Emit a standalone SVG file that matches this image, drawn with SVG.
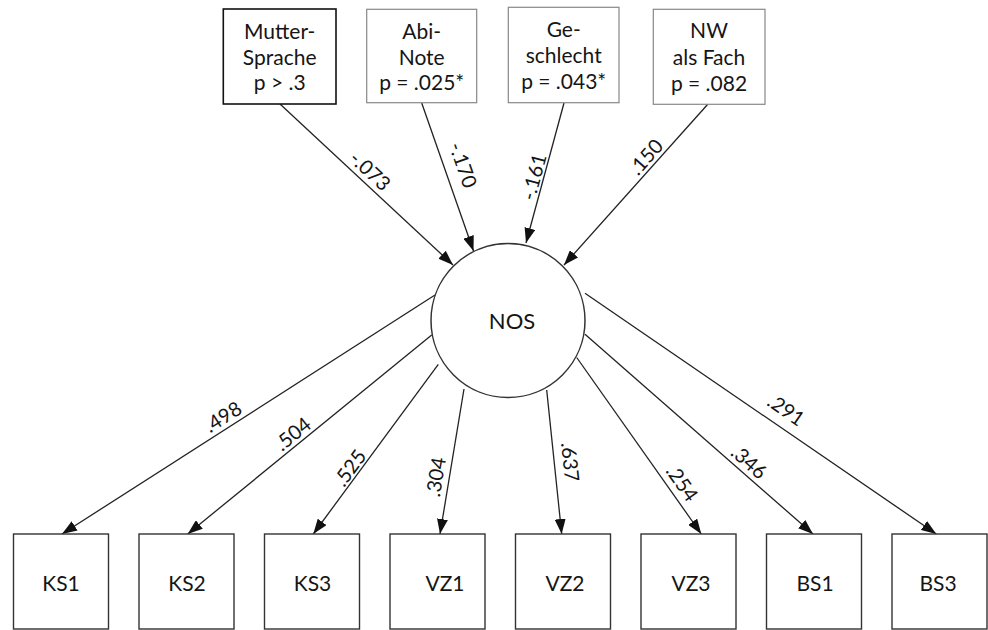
<svg xmlns="http://www.w3.org/2000/svg" width="988" height="630" viewBox="0 0 988 630">
<defs>
<marker id="ah" markerUnits="userSpaceOnUse" markerWidth="15" markerHeight="11" refX="15" refY="5.5" orient="auto">
<path d="M0,0 L15,5.5 L0,11 z" fill="#111"/>
</marker>
<style>
text{font-family:Lato,"Liberation Sans",sans-serif;fill:#151515}
.bx{fill:#fff;stroke:#333;stroke-width:1.4}
.bxg{fill:#fff;stroke:#888;stroke-width:1.2}
.bxk{fill:#fff;stroke:#111;stroke-width:1.6}
.t{font-size:21px;text-anchor:middle}
.lbl{font-size:20px;text-anchor:middle}
.e{stroke:#222;stroke-width:1.3;fill:none}
.ea{stroke:#222;stroke-width:1.3;fill:none;marker-end:url(#ah)}
</style>
</defs>
<rect width="988" height="630" fill="#fff"/>

<g id="connectors">
<line class="ea" x1="280" y1="104" x2="453" y2="265"/>
<line class="ea" x1="421.7" y1="103" x2="473.5" y2="251"/>
<line class="ea" x1="564" y1="103" x2="526" y2="243"/>
<line class="ea" x1="708" y1="104" x2="564" y2="265"/>
<line class="ea" x1="435" y1="295" x2="62" y2="534"/>
<line class="ea" x1="431.7" y1="335" x2="187.7" y2="534"/>
<line class="ea" x1="438.3" y1="364.3" x2="313.3" y2="534"/>
<line class="ea" x1="464" y1="389" x2="440" y2="534"/>
<line class="ea" x1="546.7" y1="390" x2="561.7" y2="534"/>
<line class="ea" x1="576.7" y1="357.5" x2="701.3" y2="534"/>
<line class="ea" x1="585" y1="334.3" x2="813" y2="534"/>
<line class="ea" x1="585" y1="293.3" x2="936.3" y2="534"/>
<g id="edge-labels">
<text class="lbl" transform="translate(370,171) rotate(43)" dy="0.35em">-.073</text>
<text class="lbl" transform="translate(463,165) rotate(70.7)" dy="0.35em">-.170</text>
<text class="lbl" transform="translate(534,177) rotate(-74.8)" dy="0.35em">-.161</text>
<text class="lbl" transform="translate(646,157) rotate(-48.2)" dy="0.35em">.150</text>
<text class="lbl" transform="translate(223,417) rotate(-32.6)" dy="0.35em">.498</text>
<text class="lbl" transform="translate(293,434) rotate(-39.2)" dy="0.35em">.504</text>
<text class="lbl" transform="translate(350,468) rotate(-53.6)" dy="0.35em">.525</text>
<text class="lbl" transform="translate(436,477) rotate(-80.6)" dy="0.35em">.304</text>
<text class="lbl" transform="translate(570,462) rotate(84)" dy="0.35em">.637</text>
<text class="lbl" transform="translate(682,483) rotate(54.8)" dy="0.35em">.254</text>
<text class="lbl" transform="translate(749,462) rotate(41.2)" dy="0.35em">.346</text>
<text class="lbl" transform="translate(786,410) rotate(34.4)" dy="0.35em">.291</text>
</g>
</g>

<g id="muttersprache">
<rect class="bxk" x="223.3" y="9" width="112.7" height="95"/>
<text class="t" x="279.7" y="39">Mutter-</text>
<text class="t" x="279.7" y="65">Sprache</text>
<text class="t" x="279.7" y="90">p &gt; .3</text>
</g>
<g id="abinote">
<rect class="bxg" x="366.7" y="9.3" width="110" height="93.4"/>
<text class="t" x="421.7" y="39">Abi-</text>
<text class="t" x="421.7" y="65">Note</text>
<text class="t" x="421.7" y="90">p = .025*</text>
</g>
<g id="geschlecht">
<rect class="bxg" x="508.3" y="7.3" width="110.7" height="95.4"/>
<text class="t" x="563.7" y="37">Ge-</text>
<text class="t" x="563.7" y="63">schlecht</text>
<text class="t" x="563.7" y="89">p = .043*</text>
</g>
<g id="nwfach">
<rect class="bxg" x="653.3" y="9.3" width="111.7" height="95"/>
<text class="t" x="709" y="37.5">NW</text>
<text class="t" x="709" y="64.5">als Fach</text>
<text class="t" x="709" y="91">p = .082</text>
</g>

<g id="nos">
<circle cx="508" cy="320.5" r="77" fill="#fff" stroke="#333" stroke-width="1.5"/>
<text class="t" x="512" y="329" style="font-size:22px">NOS</text>
</g>

<g id="ks1"><rect class="bx" x="13.5" y="534" width="95" height="95"/><text class="t" x="61" y="591">KS1</text></g>
<g id="ks2"><rect class="bx" x="139" y="534" width="95" height="95"/><text class="t" x="187" y="591">KS2</text></g>
<g id="ks3"><rect class="bx" x="264.5" y="534" width="95" height="95"/><text class="t" x="312.5" y="591">KS3</text></g>
<g id="vz1"><rect class="bx" x="390" y="534" width="95" height="95"/><text class="t" x="445" y="591">VZ1</text></g>
<g id="vz2"><rect class="bx" x="515.5" y="534" width="95" height="95"/><text class="t" x="565" y="591">VZ2</text></g>
<g id="vz3"><rect class="bx" x="641" y="534" width="95" height="95"/><text class="t" x="691" y="591">VZ3</text></g>
<g id="bs1"><rect class="bx" x="766.5" y="534" width="95" height="95"/><text class="t" x="815" y="591">BS1</text></g>
<g id="bs3"><rect class="bx" x="892" y="534" width="95" height="95"/><text class="t" x="938" y="591">BS3</text></g>
</svg>
